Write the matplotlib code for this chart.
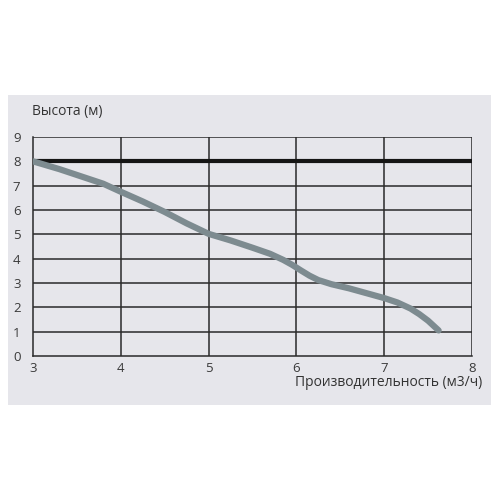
import matplotlib.pyplot as plt
from matplotlib.patches import Rectangle

plt.rcParams['font.family'] = ['Open Sans', 'DejaVu Sans']

# кривая насоса
q = [3.0, 3.3, 3.6, 3.8, 4.0, 4.25, 4.5, 4.75, 5.0, 5.25, 5.5, 5.7, 5.85, 5.95,
     6.05, 6.15, 6.25, 6.4, 6.6, 6.8, 7.0, 7.15, 7.3, 7.4, 7.5, 7.62]
h = [8.0, 7.68, 7.32, 7.08, 6.75, 6.35, 5.92, 5.45, 5.02, 4.75, 4.45, 4.2, 3.95, 3.75,
     3.52, 3.3, 3.12, 2.95, 2.78, 2.58, 2.38, 2.2, 1.95, 1.72, 1.45, 1.05]
h_max = 8
x_ticks = [3, 4, 5, 6, 7, 8]
y_ticks = [0, 1, 2, 3, 4, 5, 6, 7, 8, 9]

fig = plt.figure(figsize=(5, 5), dpi=100)
fig.patch.set_facecolor('white')
fig.patches.append(Rectangle((0.016, 0.19), 0.966, 0.62, transform=fig.transFigure,
                             facecolor='#e6e6eb', edgecolor='none', zorder=-5))

ax = fig.add_axes([0.066, 0.288, 0.878, 0.438])
ax.set_zorder(2)
ax.set_facecolor('none')
ax.set_xlim(3, 8)
ax.set_ylim(0, 9)

for y in y_ticks[1:]:
    ax.axhline(y, color='#2a2a2a', lw=1.1, zorder=1)
for x in x_ticks[1:]:
    ax.axvline(x, color='#2a2a2a', lw=1.1, zorder=1)
ax.axhline(h_max, color='#151515', lw=3, zorder=2)

ax.plot(q, h, color='#7d8b90', lw=4.5, solid_capstyle='round',
        solid_joinstyle='round', zorder=3)

for s in ['top', 'right']:
    ax.spines[s].set_visible(False)
ax.spines['left'].set_color('#2a2a2a')
ax.spines['bottom'].set_color('#2a2a2a')
ax.spines['left'].set_linewidth(1.1)
ax.spines['bottom'].set_linewidth(1.1)

ax.set_xticks(x_ticks)
ax.set_yticks(y_ticks)
ax.tick_params(axis='both', length=0, labelsize=9.5, colors='#3a3a3a')
ax.tick_params(axis='x', pad=4)
ax.tick_params(axis='y', pad=9)

fig.text(0.064, 0.776, 'Высота (м)', fontsize=10, color='#333333', va='center')
fig.text(0.964, 0.234, 'Производительность (м3/ч)', fontsize=10, color='#333333',
         va='center', ha='right')

plt.savefig('out.png', dpi=100)
